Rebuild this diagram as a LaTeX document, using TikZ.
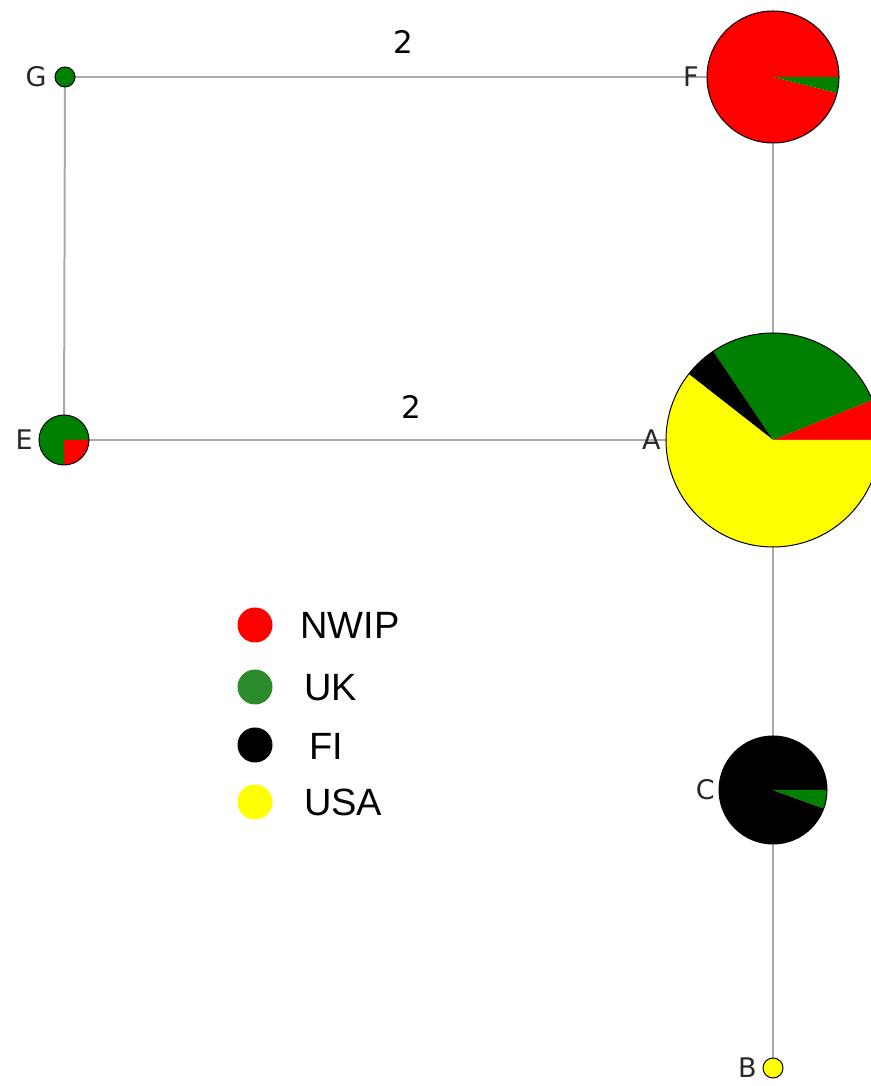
\documentclass[tikz,border=0pt]{standalone}
\usepackage{fontspec}
\setmainfont{Liberation Sans}
\newfontfamily\labelfont{DejaVu Sans}
\definecolor{piegreen}{RGB}{0,128,0}
\definecolor{keygreen}{RGB}{44,140,44}
\definecolor{piered}{RGB}{255,0,0}
\definecolor{pieyellow}{RGB}{255,255,0}
\definecolor{edgegray}{RGB}{170,170,170}
\definecolor{labelgray}{RGB}{40,40,40}
% one wedge of a pie: centre node, start angle, end angle, radius, colour
\newcommand\pieslice[5]{\fill[#5] (#1.center) -- ++(#2:#4) arc[start angle=#2, end angle=#3, radius=#4] -- cycle;}
\newcommand\pierim[2]{\draw[black, line width=1] (#1.center) circle[radius=#2];}
\begin{document}
\begin{tikzpicture}[x=1pt, y=1pt,
  vertex/.style={circle, inner sep=0pt, minimum size=#1},
  link/.style={edgegray, line width=2},
  vname/.style={font=\labelfont\fontsize{27}{27}\selectfont, text=labelgray, anchor=east, inner sep=0pt},
  weight/.style={font=\labelfont\fontsize{31}{31}\selectfont, text=black},
  keydot/.style={circle, inner sep=0pt, minimum size=35},
  keytext/.style={font=\fontsize{38}{38}\selectfont, anchor=west, inner sep=0pt}]
\useasboundingbox (0,0) rectangle (870,1086);

% graph vertices (sizes follow the pie radii)
\node[vertex=20]  (G) at (65,1009) {};
\node[vertex=132] (F) at (773,1009) {};
\node[vertex=214] (A) at (773,646) {};
\node[vertex=50]  (E) at (64,646) {};
\node[vertex=108] (C) at (773,296) {};
\node[vertex=20]  (B) at (773,18) {};

% edges
\draw[link] (G) -- (F);
\draw[link] (G) -- (E);
\draw[link] (E) -- (A);
\draw[link] (F) -- (A);
\draw[link] (A) -- (C);
\draw[link] (C) -- (B);

% edge weights
\node[weight] (wGF) at (403,1044) {2};
\node[weight] (wEA) at (411,679) {2};

% pies
\pieslice{G}{0}{360}{10}{piegreen}
\pierim{G}{10}

\pieslice{F}{0}{346}{66}{piered}
\pieslice{F}{-14}{0}{66}{piegreen}
\pierim{F}{66}

\pieslice{A}{0}{22}{107}{piered}
\pieslice{A}{22}{124}{107}{piegreen}
\pieslice{A}{124}{142}{107}{black}
\pieslice{A}{142}{360}{107}{pieyellow}
\pierim{A}{107}

\pieslice{E}{0}{270}{25}{piegreen}
\pieslice{E}{270}{360}{25}{piered}
\pierim{E}{25}

\pieslice{C}{0}{340}{54}{black}
\pieslice{C}{-20}{0}{54}{piegreen}
\pierim{C}{54}

\pieslice{B}{0}{360}{10}{pieyellow}
\pierim{B}{10}

% vertex names
\node[vname, xshift=-8pt] (lG) at (G.west) {G};
\node[vname, xshift=-8pt] (lF) at (F.west) {F};
\node[vname, xshift=-5pt] (lA) at (A.west) {A};
\node[vname, xshift=-6pt] (lE) at (E.west) {E};
\node[vname, xshift=-4pt] (lC) at (C.west) {C};
\node[vname, xshift=-6pt] (lB) at (B.west) {B};

% legend
\node[keydot, fill=piered]    (k1) at (255,461) {};
\node[keydot, fill=keygreen]  (k2) at (255,399) {};
\node[keydot, fill=black]     (k3) at (255,341) {};
\node[keydot, fill=pieyellow] (k4) at (255,284) {};
\node[keytext] (t1) at (300,461) {NWIP};
\node[keytext] (t2) at (304,398) {UK};
\node[keytext] (t3) at (309,340) {FI};
\node[keytext] (t4) at (304,284) {USA};
\end{tikzpicture}
\end{document}
